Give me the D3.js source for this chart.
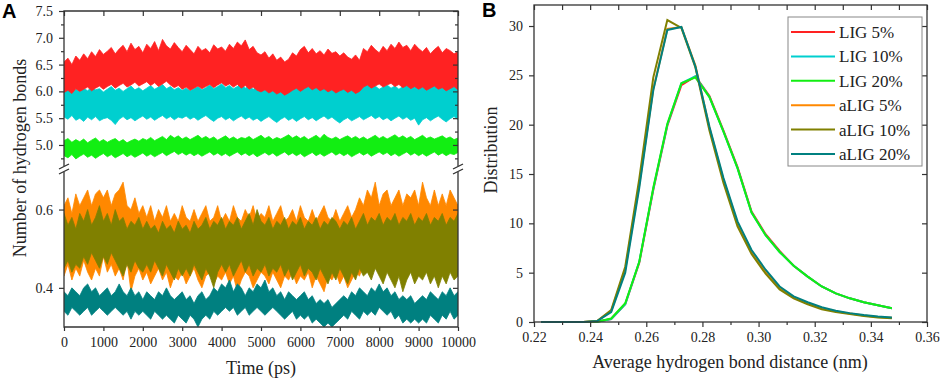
<!DOCTYPE html>
<html>
<head>
<meta charset="utf-8">
<script src="https://cdn.jsdelivr.net/npm/d3@7"></script>
<style>
body { margin: 0; background: #fff; }
svg text { font-family: "Liberation Serif", "Times New Roman", serif; fill: #222; }
.axis line { stroke: #333; stroke-width: 1.2; }
.axis text { font-size: 14px; }
</style>
</head>
<body>
<div id="chart"></div>
<script>
var width = 941,
    height = 381;

// ---------- panel A : number of hydrogen bonds vs time (envelopes every 100 ps)
var times = d3.range(0, 10001, 100);

var lig5Hi = [6.55, 6.62, 6.50, 6.66, 6.58, 6.70, 6.61, 6.74, 6.65, 6.78, 6.69,
    6.75, 6.82, 6.70, 6.79, 6.86, 6.74, 6.90, 6.78, 6.84, 6.72,
    6.88, 6.80, 6.93, 6.76, 6.97, 6.85, 6.79, 6.91, 6.82, 6.74,
    6.86, 6.78, 6.70, 6.84, 6.76, 6.80, 6.72, 6.87, 6.79, 6.83,
    6.75, 6.88, 6.80, 6.92, 6.85, 6.96, 6.78, 6.84, 6.72, 6.68,
    6.74, 6.62, 6.70, 6.58, 6.64, 6.55, 6.60, 6.72, 6.66, 6.78,
    6.84, 6.72, 6.80, 6.70, 6.76, 6.68, 6.79, 6.71, 6.74, 6.66,
    6.72, 6.64, 6.60, 6.68, 6.58, 6.80, 6.74, 6.86, 6.78, 6.72,
    6.84, 6.76, 6.88, 6.80, 6.92, 6.82, 6.86, 6.76, 6.88, 6.80,
    6.74, 6.82, 6.70, 6.78, 6.84, 6.72, 6.80, 6.76, 6.70, 6.74, 6.66];
var lig5Lo = [5.98, 6.02, 5.96, 6.05, 6.00, 6.04, 6.08, 6.01, 6.06, 6.10, 6.04,
    6.09, 6.13, 6.06, 6.11, 6.15, 6.08, 6.12, 6.17, 6.10, 6.14,
    6.18, 6.11, 6.16, 6.09, 6.14, 6.19, 6.12, 6.07, 6.11, 6.04,
    6.08, 6.02, 6.06, 6.10, 6.05, 6.09, 6.13, 6.07, 6.12, 6.16,
    6.10, 6.14, 6.08, 6.13, 6.06, 6.11, 6.04, 6.08, 6.02, 5.99,
    6.03, 5.97, 6.01, 5.95, 5.99, 5.93, 5.97, 6.02, 6.06, 6.00,
    6.05, 6.09, 6.03, 6.07, 6.01, 6.05, 5.99, 6.03, 5.97, 6.01,
    6.04, 5.98, 6.02, 5.96, 6.00, 6.08, 6.12, 6.06, 6.10, 6.14,
    6.08, 6.12, 6.15, 6.09, 6.13, 6.07, 6.11, 6.05, 6.09, 6.04,
    6.08, 6.02, 6.06, 6.10, 6.04, 6.07, 6.01, 6.05, 6.09, 6.03, 6.06];

var lig10Hi = [6.02, 6.07, 5.98, 6.04, 6.00, 6.06, 6.01, 6.08, 6.03, 6.05, 5.99,
    6.04, 6.09, 6.02, 6.06, 6.00, 6.05, 6.10, 6.03, 6.07, 6.01,
    6.06, 6.11, 6.04, 6.08, 6.13, 6.05, 6.09, 6.03, 6.07, 6.02,
    6.06, 6.01, 6.05, 6.09, 6.03, 6.07, 6.12, 6.05, 6.09, 6.14,
    6.07, 6.11, 6.05, 6.09, 6.15, 6.06, 6.10, 6.04, 6.08, 6.02,
    6.05, 6.00, 6.04, 5.98, 6.03, 6.07, 6.01, 6.05, 6.09, 6.03,
    6.08, 6.12, 6.05, 6.09, 6.03, 6.07, 6.01, 6.05, 6.10, 6.04,
    6.08, 6.02, 6.06, 6.00, 6.04, 6.09, 6.13, 6.06, 6.10, 6.04,
    6.08, 6.12, 6.06, 6.10, 6.04, 6.09, 6.13, 6.07, 6.11, 6.05,
    6.09, 6.03, 6.07, 6.11, 6.05, 6.08, 6.02, 6.06, 6.10, 6.04, 6.12];
var lig10Lo = [5.52, 5.48, 5.55, 5.46, 5.50, 5.44, 5.52, 5.47, 5.53, 5.45, 5.49,
    5.51, 5.46, 5.38, 5.48, 5.53, 5.47, 5.51, 5.45, 5.50, 5.54,
    5.48, 5.52, 5.46, 5.51, 5.55, 5.49, 5.53, 5.47, 5.52, 5.50,
    5.54, 5.48, 5.52, 5.46, 5.51, 5.55, 5.49, 5.44, 5.50, 5.53,
    5.47, 5.51, 5.45, 5.50, 5.54, 5.48, 5.52, 5.46, 5.50, 5.44,
    5.49, 5.53, 5.47, 5.42, 5.48, 5.52, 5.46, 5.50, 5.44, 5.49,
    5.53, 5.47, 5.51, 5.45, 5.50, 5.54, 5.48, 5.52, 5.46, 5.41,
    5.47, 5.51, 5.45, 5.49, 5.53, 5.47, 5.51, 5.55, 5.49, 5.53,
    5.47, 5.51, 5.45, 5.50, 5.54, 5.48, 5.52, 5.46, 5.50, 5.37,
    5.47, 5.51, 5.45, 5.50, 5.54, 5.48, 5.43, 5.49, 5.53, 5.47, 5.51];

var lig20Hi = [5.08, 5.12, 5.05, 5.10, 5.06, 5.11, 5.04, 5.09, 5.13, 5.06, 5.10,
    5.05, 5.09, 5.12, 5.06, 5.10, 5.04, 5.08, 5.11, 5.07, 5.12,
    5.09, 5.14, 5.08, 5.12, 5.16, 5.10, 5.18, 5.13, 5.17, 5.11,
    5.15, 5.10, 5.14, 5.18, 5.12, 5.16, 5.11, 5.15, 5.09, 5.13,
    5.17, 5.11, 5.15, 5.10, 5.14, 5.12, 5.16, 5.10, 5.14, 5.18,
    5.12, 5.16, 5.10, 5.14, 5.11, 5.15, 5.19, 5.13, 5.17, 5.12,
    5.16, 5.10, 5.14, 5.18, 5.12, 5.20, 5.14, 5.11, 5.15, 5.10,
    5.14, 5.17, 5.12, 5.16, 5.11, 5.15, 5.10, 5.14, 5.18, 5.12,
    5.16, 5.11, 5.15, 5.19, 5.13, 5.17, 5.12, 5.16, 5.10, 5.14,
    5.18, 5.12, 5.15, 5.11, 5.14, 5.17, 5.12, 5.15, 5.10, 5.13, 5.17];
var lig20Lo = [4.80, 4.76, 4.82, 4.74, 4.79, 4.83, 4.77, 4.81, 4.75, 4.80, 4.84,
    4.78, 4.82, 4.76, 4.80, 4.84, 4.78, 4.82, 4.77, 4.81, 4.85,
    4.79, 4.83, 4.78, 4.82, 4.86, 4.80, 4.84, 4.88, 4.82, 4.86,
    4.81, 4.85, 4.80, 4.84, 4.79, 4.83, 4.87, 4.81, 4.85, 4.80,
    4.84, 4.79, 4.83, 4.87, 4.81, 4.85, 4.80, 4.84, 4.78, 4.82,
    4.86, 4.81, 4.85, 4.79, 4.83, 4.87, 4.81, 4.85, 4.80, 4.84,
    4.78, 4.82, 4.86, 4.80, 4.84, 4.79, 4.83, 4.87, 4.81, 4.85,
    4.80, 4.84, 4.78, 4.82, 4.86, 4.81, 4.85, 4.79, 4.83, 4.87,
    4.82, 4.86, 4.80, 4.84, 4.79, 4.83, 4.87, 4.81, 4.85, 4.80,
    4.84, 4.79, 4.83, 4.87, 4.81, 4.85, 4.80, 4.84, 4.82, 4.86, 4.81];

var alig5Hi = [0.61, 0.63, 0.59, 0.64, 0.61, 0.63, 0.65, 0.61, 0.64, 0.65, 0.63,
    0.65, 0.61, 0.64, 0.65, 0.67, 0.61, 0.60, 0.63, 0.59, 0.61,
    0.58, 0.61, 0.57, 0.60, 0.58, 0.61, 0.57, 0.59, 0.57, 0.61,
    0.58, 0.57, 0.60, 0.57, 0.59, 0.61, 0.57, 0.58, 0.61, 0.57,
    0.59, 0.57, 0.61, 0.58, 0.57, 0.60, 0.58, 0.61, 0.57, 0.59,
    0.58, 0.61, 0.57, 0.59, 0.61, 0.57, 0.58, 0.60, 0.57, 0.61,
    0.58, 0.57, 0.60, 0.57, 0.59, 0.61, 0.58, 0.57, 0.60, 0.57,
    0.59, 0.61, 0.58, 0.60, 0.63, 0.61, 0.65, 0.63, 0.67, 0.61,
    0.64, 0.65, 0.61, 0.63, 0.65, 0.61, 0.64, 0.63, 0.65, 0.61,
    0.67, 0.63, 0.61, 0.65, 0.61, 0.64, 0.61, 0.65, 0.63, 0.61, 0.65];
var alig5Lo = [0.43, 0.46, 0.42, 0.45, 0.43, 0.47, 0.44, 0.42, 0.45, 0.43, 0.48,
    0.44, 0.46, 0.43, 0.45, 0.42, 0.47, 0.39, 0.43, 0.45, 0.42,
    0.44, 0.41, 0.43, 0.45, 0.42, 0.44, 0.40, 0.43, 0.42, 0.44,
    0.41, 0.43, 0.45, 0.42, 0.40, 0.43, 0.44, 0.41, 0.43, 0.42,
    0.44, 0.41, 0.43, 0.39, 0.42, 0.44, 0.43, 0.40, 0.42, 0.44,
    0.43, 0.41, 0.44, 0.42, 0.40, 0.43, 0.42, 0.44, 0.41, 0.43,
    0.42, 0.44, 0.40, 0.43, 0.41, 0.39, 0.43, 0.42, 0.44, 0.41,
    0.43, 0.40, 0.42, 0.44, 0.43, 0.46, 0.44, 0.47, 0.45, 0.48,
    0.46, 0.44, 0.47, 0.45, 0.48, 0.44, 0.46, 0.48, 0.45, 0.47,
    0.44, 0.48, 0.46, 0.45, 0.47, 0.44, 0.48, 0.46, 0.45, 0.47, 0.46];

var alig10Hi = [0.59, 0.56, 0.58, 0.55, 0.59, 0.57, 0.60, 0.56, 0.58, 0.61, 0.57,
    0.59, 0.56, 0.60, 0.57, 0.58, 0.55, 0.57, 0.56, 0.58, 0.55,
    0.57, 0.55, 0.56, 0.54, 0.57, 0.55, 0.56, 0.54, 0.57, 0.55,
    0.56, 0.54, 0.57, 0.55, 0.56, 0.58, 0.55, 0.57, 0.56, 0.58,
    0.55, 0.57, 0.56, 0.58, 0.55, 0.57, 0.59, 0.56, 0.60, 0.57,
    0.56, 0.58, 0.55, 0.57, 0.56, 0.58, 0.55, 0.57, 0.56, 0.58,
    0.55, 0.57, 0.56, 0.58, 0.55, 0.57, 0.56, 0.58, 0.57, 0.55,
    0.57, 0.56, 0.58, 0.55, 0.57, 0.59, 0.56, 0.58, 0.57, 0.59,
    0.56, 0.58, 0.57, 0.59, 0.56, 0.58, 0.57, 0.59, 0.56, 0.58,
    0.57, 0.59, 0.56, 0.58, 0.57, 0.59, 0.56, 0.58, 0.57, 0.59, 0.58];
var alig10Lo = [0.45, 0.47, 0.44, 0.46, 0.45, 0.48, 0.46, 0.49, 0.47, 0.45, 0.48,
    0.46, 0.49, 0.47, 0.45, 0.43, 0.46, 0.44, 0.47, 0.45, 0.44,
    0.46, 0.44, 0.47, 0.45, 0.43, 0.46, 0.44, 0.42, 0.45, 0.43,
    0.45, 0.43, 0.46, 0.44, 0.42, 0.45, 0.43, 0.40, 0.44, 0.46,
    0.44, 0.46, 0.43, 0.45, 0.47, 0.44, 0.46, 0.43, 0.45, 0.44,
    0.46, 0.43, 0.45, 0.44, 0.46, 0.43, 0.45, 0.42, 0.44, 0.46,
    0.43, 0.45, 0.44, 0.42, 0.45, 0.43, 0.41, 0.44, 0.42, 0.45,
    0.43, 0.41, 0.44, 0.42, 0.45, 0.43, 0.44, 0.42, 0.45, 0.43,
    0.41, 0.44, 0.42, 0.40, 0.43, 0.39, 0.42, 0.44, 0.41, 0.43,
    0.42, 0.44, 0.41, 0.43, 0.40, 0.43, 0.41, 0.44, 0.42, 0.43, 0.42];

var alig20Hi = [0.39, 0.38, 0.40, 0.39, 0.38, 0.40, 0.41, 0.39, 0.40, 0.38, 0.39,
    0.40, 0.38, 0.39, 0.41, 0.39, 0.38, 0.40, 0.38, 0.39, 0.37,
    0.39, 0.38, 0.37, 0.39, 0.38, 0.40, 0.38, 0.37, 0.38, 0.39,
    0.37, 0.38, 0.36, 0.38, 0.39, 0.37, 0.38, 0.40, 0.39, 0.41,
    0.40, 0.42, 0.39, 0.41, 0.40, 0.38, 0.40, 0.39, 0.41, 0.40,
    0.42, 0.39, 0.40, 0.38, 0.39, 0.37, 0.39, 0.38, 0.37, 0.38,
    0.39, 0.37, 0.38, 0.36, 0.37, 0.36, 0.37, 0.35, 0.36, 0.37,
    0.38, 0.37, 0.39, 0.38, 0.40, 0.39, 0.38, 0.40, 0.39, 0.41,
    0.39, 0.40, 0.38, 0.39, 0.37, 0.38, 0.37, 0.38, 0.36, 0.37,
    0.38, 0.37, 0.39, 0.38, 0.37, 0.39, 0.38, 0.40, 0.38, 0.39, 0.40];
var alig20Lo = [0.34, 0.33, 0.35, 0.34, 0.33, 0.34, 0.35, 0.33, 0.34, 0.35, 0.34,
    0.33, 0.34, 0.35, 0.34, 0.33, 0.34, 0.32, 0.34, 0.33, 0.34,
    0.33, 0.32, 0.34, 0.33, 0.32, 0.33, 0.32, 0.31, 0.33, 0.32,
    0.31, 0.33, 0.32, 0.30, 0.32, 0.33, 0.32, 0.34, 0.33, 0.34,
    0.35, 0.34, 0.35, 0.33, 0.34, 0.35, 0.33, 0.34, 0.35, 0.34,
    0.33, 0.34, 0.35, 0.34, 0.33, 0.32, 0.33, 0.34, 0.32, 0.33,
    0.32, 0.33, 0.31, 0.32, 0.31, 0.30, 0.31, 0.30, 0.31, 0.32,
    0.33, 0.32, 0.34, 0.33, 0.32, 0.34, 0.33, 0.34, 0.33, 0.35,
    0.34, 0.33, 0.34, 0.32, 0.33, 0.31, 0.32, 0.31, 0.32, 0.31,
    0.32, 0.31, 0.33, 0.32, 0.31, 0.33, 0.32, 0.34, 0.32, 0.33, 0.32];

var timeTicks = [0, 1000, 2000, 3000, 4000, 5000, 6000, 7000, 8000, 9000, 10000];
var upperTicks = [5.0, 5.5, 6.0, 6.5, 7.0, 7.5];
var upperMinor = [4.75, 5.25, 5.75, 6.25, 6.75, 7.25];
var lowerTicks = [0.4, 0.6];

// ---------- panel B : distance distribution
var distX = [0.2225, 0.2275, 0.2325, 0.2375, 0.2425, 0.2475, 0.2525, 0.2575, 0.2625,
    0.2675, 0.2725, 0.2775, 0.2825, 0.2875, 0.2925, 0.2975, 0.3025, 0.3075, 0.3125,
    0.3175, 0.3225, 0.3275, 0.3325, 0.3375, 0.3425, 0.3475];
var distLig5 = [0, 0, 0, 0, 0.02, 0.3, 1.8, 6.0, 13.4, 19.9, 24.0, 24.9, 22.9, 19.4, 15.7, 11.2, 8.9, 7.2, 5.7, 4.6, 3.6, 2.9, 2.4, 2.0, 1.7, 1.4];
var distLig10 = [0, 0, 0, 0, 0.02, 0.3, 1.8, 6.1, 13.5, 20.0, 24.2, 24.9, 22.8, 19.3, 15.6, 11.1, 8.8, 7.1, 5.7, 4.6, 3.6, 2.9, 2.4, 2.0, 1.7, 1.4];
var distLig20 = [0, 0, 0, 0, 0.02, 0.35, 1.9, 6.1, 13.6, 20.1, 24.2, 24.8, 22.8, 19.3, 15.6, 11.1, 8.8, 7.1, 5.7, 4.6, 3.6, 2.9, 2.4, 2.0, 1.7, 1.4];
var distAlig5 = [0, 0, 0, 0, 0.1, 1.1, 5.3, 13.9, 23.6, 29.7, 29.9, 26.0, 19.7, 14.4, 10.0, 7.1, 5.1, 3.5, 2.5, 1.9, 1.4, 1.1, 0.85, 0.65, 0.5, 0.42];
var distAlig10 = [0, 0, 0, 0, 0.1, 1.2, 5.6, 14.5, 24.8, 30.6, 29.8, 25.8, 19.4, 14.1, 9.7, 6.9, 4.9, 3.3, 2.4, 1.8, 1.3, 1.0, 0.8, 0.6, 0.45, 0.38];
var distAlig20 = [0, 0, 0, 0, 0.1, 1.0, 5.0, 13.6, 23.5, 29.6, 29.9, 25.9, 19.8, 14.6, 10.2, 7.3, 5.3, 3.6, 2.6, 2.0, 1.5, 1.15, 0.9, 0.7, 0.55, 0.45];

var distTicks = [0.22, 0.24, 0.26, 0.28, 0.30, 0.32, 0.34, 0.36];
var distMinor = [0.23, 0.25, 0.27, 0.29, 0.31, 0.33, 0.35];
var distYTicks = [0, 5, 10, 15, 20, 25, 30];

var seriesNames = ["LIG 5%", "LIG 10%", "LIG 20%", "aLIG 5%", "aLIG 10%", "aLIG 20%"];
var seriesColors = ["#ff2222", "#00cfcf", "#12ee12", "#ff8800", "#808000", "#008080"];

var svg = d3.select("#chart")
    .append("svg")
    .attr("width", width)
    .attr("height", height);

// ================= Panel A =================
var A = { left: 64, right: 458, top: 11, bottom: 327, brk1: 166, brk2: 172 };

var xA = d3.scaleLinear().domain([0, 10000]).range([A.left, A.right]);
var yUp = d3.scaleLinear().domain([4.6, 7.5]).range([166.4, A.top]);
var yLo = d3.scaleLinear().domain([0.3, 0.7]).range([A.bottom, 170.4]);

var defs = svg.append("defs");
defs.append("clipPath").attr("id", "clipUp")
    .append("rect").attr("x", A.left).attr("y", A.top).attr("width", A.right - A.left).attr("height", A.brk1 - A.top);
defs.append("clipPath").attr("id", "clipLo")
    .append("rect").attr("x", A.left).attr("y", A.brk2).attr("width", A.right - A.left).attr("height", A.bottom - A.brk2);

function band(g, yScale, lo, hi, color) {
    var rows = times.map(function (t, i) {
        return { t: t, lo: lo[i], hi: hi[i] };
    });
    var area = d3.area()
        .x(function (d) { return xA(d.t); })
        .y0(function (d) { return yScale(d.lo); })
        .y1(function (d) { return yScale(d.hi); });
    g.append("path")
        .datum(rows)
        .attr("d", area)
        .attr("fill", color)
        .attr("stroke", color)
        .attr("stroke-width", 0.8);
}

var gUp = svg.append("g").attr("clip-path", "url(#clipUp)");
band(gUp, yUp, lig20Lo, lig20Hi, seriesColors[2]);
band(gUp, yUp, lig10Lo, lig10Hi, seriesColors[1]);
band(gUp, yUp, lig5Lo, lig5Hi, seriesColors[0]);

var gLo = svg.append("g").attr("clip-path", "url(#clipLo)");
band(gLo, yLo, alig5Lo, alig5Hi, seriesColors[3]);
band(gLo, yLo, alig10Lo, alig10Hi, seriesColors[4]);
band(gLo, yLo, alig20Lo, alig20Hi, seriesColors[5]);

function noDomain(g) { g.select(".domain").remove(); }

// left axis (outward ticks)
svg.append("g").attr("class", "axis").attr("transform", "translate(" + A.left + ",0)")
    .call(d3.axisLeft(yUp).tickValues(upperTicks).tickFormat(d3.format(".1f")).tickSize(5).tickPadding(6))
    .call(noDomain);
svg.append("g").attr("class", "axis").attr("transform", "translate(" + A.left + ",0)")
    .call(d3.axisLeft(yUp).tickValues(upperMinor).tickFormat("").tickSize(3))
    .call(noDomain);
svg.append("g").attr("class", "axis").attr("transform", "translate(" + A.left + ",0)")
    .call(d3.axisLeft(yLo).tickValues(lowerTicks).tickFormat(d3.format(".1f")).tickSize(5).tickPadding(6))
    .call(noDomain);
// right axis (inward ticks)
svg.append("g").attr("class", "axis").attr("transform", "translate(" + A.right + ",0)")
    .call(d3.axisLeft(yUp).tickValues(upperTicks).tickFormat("").tickSize(5))
    .call(noDomain);
svg.append("g").attr("class", "axis").attr("transform", "translate(" + A.right + ",0)")
    .call(d3.axisLeft(yUp).tickValues(upperMinor).tickFormat("").tickSize(3))
    .call(noDomain);
svg.append("g").attr("class", "axis").attr("transform", "translate(" + A.right + ",0)")
    .call(d3.axisLeft(yLo).tickValues(lowerTicks).tickFormat("").tickSize(5))
    .call(noDomain);
// bottom and top
svg.append("g").attr("class", "axis").attr("transform", "translate(0," + A.bottom + ")")
    .call(d3.axisBottom(xA).tickValues(timeTicks).tickFormat(d3.format("d")).tickSize(4).tickPadding(6))
    .call(noDomain);
svg.append("g").attr("class", "axis").attr("transform", "translate(0," + A.top + ")")
    .call(d3.axisBottom(xA).tickValues(timeTicks).tickFormat("").tickSize(5))
    .call(noDomain);

// frame with the axis break
var frameA = svg.append("g").attr("stroke", "#333").attr("stroke-width", 1.3).attr("fill", "none");
frameA.append("path").attr("d",
    "M" + A.left + "," + A.brk1 + "V" + A.top + "H" + A.right + "V" + A.brk1 +
    "M" + A.left + "," + A.brk2 + "V" + A.bottom + "H" + A.right + "V" + A.brk2);
[A.left, A.right].forEach(function (x0) {
    frameA.append("line").attr("x1", x0 - 5).attr("y1", A.brk1 + 3).attr("x2", x0 + 5).attr("y2", A.brk1 - 2);
    frameA.append("line").attr("x1", x0 - 5).attr("y1", A.brk2 + 2).attr("x2", x0 + 5).attr("y2", A.brk2 - 3);
});

svg.append("text")
    .attr("transform", "translate(26,158)rotate(-90)")
    .attr("text-anchor", "middle")
    .style("font-size", "18px")
    .text("Number of hydrogen bonds");
svg.append("text")
    .attr("x", (A.left + A.right) / 2)
    .attr("y", 374)
    .attr("text-anchor", "middle")
    .style("font-size", "18px")
    .text("Time (ps)");
svg.append("text")
    .attr("x", 2).attr("y", 18)
    .style("font-family", "'Liberation Sans', Arial, sans-serif")
    .style("font-weight", "bold")
    .style("font-size", "20px")
    .style("fill", "#000")
    .text("A");

// ================= Panel B =================
var B = { left: 534, right: 927, top: 5, bottom: 322 };
var xB = d3.scaleLinear().domain([0.22, 0.36]).range([B.left, B.right]);
var yB = d3.scaleLinear().domain([0, 32.13]).range([B.bottom, B.top]);

var distSeries = [distLig5, distLig10, distLig20, distAlig5, distAlig10, distAlig20];
var distLine = d3.line()
    .x(function (d) { return xB(d[0]); })
    .y(function (d) { return yB(d[1]); });

distSeries.forEach(function (s, k) {
    svg.append("path")
        .datum(distX.map(function (x, i) { return [x, s[i]]; }))
        .attr("d", distLine)
        .attr("fill", "none")
        .attr("stroke", seriesColors[k])
        .attr("stroke-width", 2);
});

svg.append("g").attr("class", "axis").attr("transform", "translate(" + B.left + ",0)")
    .call(d3.axisLeft(yB).tickValues(distYTicks).tickFormat(d3.format("d")).tickSize(5).tickPadding(6))
    .call(noDomain);
svg.append("g").attr("class", "axis").attr("transform", "translate(" + B.right + ",0)")
    .call(d3.axisLeft(yB).tickValues(distYTicks).tickFormat("").tickSize(5))
    .call(noDomain);
svg.append("g").attr("class", "axis").attr("transform", "translate(0," + B.bottom + ")")
    .call(d3.axisBottom(xB).tickValues(distTicks).tickFormat(d3.format(".2f")).tickSize(5).tickPadding(5))
    .call(noDomain);
svg.append("g").attr("class", "axis").attr("transform", "translate(0," + B.bottom + ")")
    .call(d3.axisBottom(xB).tickValues(distMinor).tickFormat("").tickSize(3))
    .call(noDomain);
svg.append("g").attr("class", "axis").attr("transform", "translate(0," + B.top + ")")
    .call(d3.axisBottom(xB).tickValues(distTicks.concat(distMinor)).tickFormat("").tickSize(5))
    .call(noDomain);

svg.append("rect")
    .attr("x", B.left).attr("y", B.top)
    .attr("width", B.right - B.left).attr("height", B.bottom - B.top)
    .attr("fill", "none").attr("stroke", "#333").attr("stroke-width", 1.3);

svg.append("text")
    .attr("transform", "translate(497,150)rotate(-90)")
    .attr("text-anchor", "middle")
    .style("font-size", "18px")
    .text("Distribution");
svg.append("text")
    .attr("x", (B.left + B.right) / 2 - 0.5)
    .attr("y", 368)
    .attr("text-anchor", "middle")
    .style("font-size", "18px")
    .text("Average hydrogen bond distance (nm)");
svg.append("text")
    .attr("x", 482).attr("y", 17)
    .style("font-family", "'Liberation Sans', Arial, sans-serif")
    .style("font-weight", "bold")
    .style("font-size", "20px")
    .style("fill", "#000")
    .text("B");

// legend
var legend = svg.append("g").attr("transform", "translate(788,17)");
legend.append("rect")
    .attr("width", 134).attr("height", 149)
    .attr("fill", "#fff").attr("stroke", "#888").attr("stroke-width", 1);
seriesNames.forEach(function (name, k) {
    var ly = 15 + k * 24.4;
    legend.append("line")
        .attr("x1", 3).attr("x2", 47).attr("y1", ly).attr("y2", ly)
        .attr("stroke", seriesColors[k]).attr("stroke-width", 2);
    legend.append("text")
        .attr("x", 51).attr("y", ly).attr("dy", "0.35em")
        .style("font-size", "17px")
        .text(name);
});

// check for broken band paths
svg.selectAll("path").each(function () {
    var dd = this.getAttribute("d") || "";
    if (dd.indexOf("NaN") >= 0) {
        svg.append("text").attr("x", 100).attr("y", 200).style("fill", "magenta").text("NaN " + dd.length);
    }
});
</script>
</body>
</html>
